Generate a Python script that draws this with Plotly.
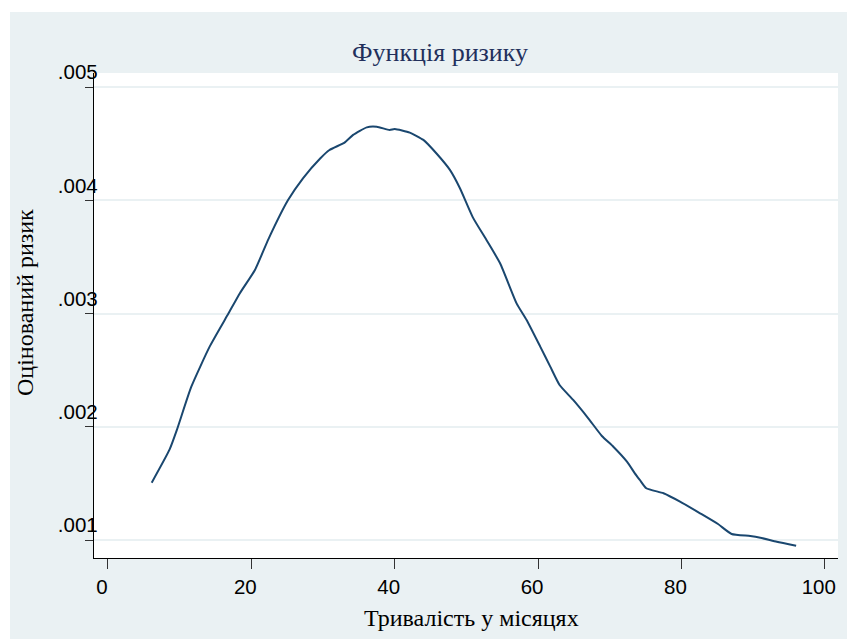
import plotly.graph_objects as go

# Data
months = [6.1, 8.6, 9.6, 11.6, 14.2, 16.8, 18.4, 20.5, 22.4, 25.1, 27.2, 29.6, 30.9,
          33.0, 34.2, 36.1, 37.5, 39.3, 40.0, 42.1, 44.0, 45.8, 47.7, 49.1, 50.9,
          52.8, 54.7, 57.0, 58.4, 60.3, 61.7, 63.0, 64.9, 67.0, 68.9, 70.5, 72.4,
          73.5, 74.2, 75.1, 77.5, 79.8, 82.6, 85.1, 87.0, 89.6, 91.0, 93.3, 96.0]
hazard = [0.001506, 0.00180, 0.00197, 0.00235, 0.00271, 0.00300, 0.00318, 0.003385,
          0.00366, 0.00400, 0.004195, 0.00437, 0.004445, 0.00451, 0.004578, 0.004645,
          0.00465, 0.004622, 0.00463, 0.004598, 0.004534, 0.004416, 0.004269, 0.004107,
          0.00385, 0.00365, 0.003444, 0.00309, 0.002943, 0.002708, 0.002531, 0.002369,
          0.002237, 0.002075, 0.001919, 0.001824, 0.001692, 0.001589, 0.00153, 0.001457,
          0.001413, 0.001339, 0.001236, 0.001141, 0.001053, 0.001035, 0.00102, 0.000985,
          0.00095]

x_ticks = [0, 20, 40, 60, 80, 100]
x_tick_labels = ["0", "20", "40", "60", "80", "100"]
y_ticks = [0.001, 0.002, 0.003, 0.004, 0.005]
y_tick_labels = [".001", ".002", ".003", ".004", ".005"]

title_text = "Функція ризику"
x_title = "Тривалість у місяцях"
y_title = "Оцінований ризик"

W, H = 847, 639
ML, MR, MT, MB = 94, 9, 73, 81
pw, ph = W - ML - MR, H - MT - MB

def px_to_paper_x(px):
    return (px - ML) / pw

def py_to_paper_y(py):
    return (H - MB - py) / ph

BG = "#EAF1F3"
fig = go.Figure()
fig.add_trace(go.Scatter(x=months, y=hazard, mode="lines",
                         line=dict(color="#1A476F", width=2, shape="spline",
                                   smoothing=0.5),
                         showlegend=False, hoverinfo="x+y"))

fig.update_layout(
    width=W, height=H,
    margin=dict(l=ML, r=MR, t=MT, b=MB),
    paper_bgcolor=BG, plot_bgcolor="white",
    title=dict(text=title_text, x=440 / W, xanchor="center", xref="container",
               y=1 - 52 / H, yanchor="middle", yref="container",
               font=dict(family="Liberation Serif", size=26, color="#22305C")),
    xaxis=dict(range=[-1.95, 101.84], tickvals=x_ticks, ticktext=x_tick_labels,
               showgrid=False, zeroline=False, showline=True, linecolor="black",
               linewidth=1.3, ticks="outside", ticklen=10, tickcolor="#333",
               tickwidth=1.3, ticklabelshift=-6,
               tickfont=dict(family="Liberation Sans", size=20.5, color="black")),
    yaxis=dict(range=[0.000841, 0.005125], tickvals=y_ticks, ticktext=y_tick_labels,
               showgrid=True, gridcolor=BG, gridwidth=1.8, zeroline=False,
               showline=True, linecolor="black", linewidth=1.3, ticks="outside",
               ticklen=8, tickcolor="#333", tickwidth=1.3,
               ticklabelshift=-15, ticklabelstandoff=-17,
               tickfont=dict(family="Liberation Sans", size=20.5, color="black")),
    annotations=[
        dict(text=x_title, xref="paper", yref="paper",
             x=px_to_paper_x(471), y=py_to_paper_y(618), xanchor="center",
             yanchor="middle", showarrow=False,
             font=dict(family="Liberation Serif", size=24, color="black")),
        dict(text=y_title, xref="paper", yref="paper", textangle=-90,
             x=px_to_paper_x(25), y=py_to_paper_y(303), xanchor="center",
             yanchor="middle", showarrow=False,
             font=dict(family="Liberation Serif", size=24, color="black")),
    ],
    shapes=[
        dict(type="rect", xref="paper", yref="paper", layer="below",
             x0=px_to_paper_x(-2), x1=px_to_paper_x(10),
             y0=py_to_paper_y(H + 2), y1=py_to_paper_y(-2),
             fillcolor="white", line=dict(width=0)),
        dict(type="rect", xref="paper", yref="paper", layer="below",
             x0=px_to_paper_x(-2), x1=px_to_paper_x(W + 2),
             y0=py_to_paper_y(12), y1=py_to_paper_y(-2),
             fillcolor="white", line=dict(width=0)),
    ],
)

fig.write_html(
    "out.html",
    config={"displayModeBar": False},
    post_script="document.body.style.margin='0';document.body.style.overflow='hidden';",
)
